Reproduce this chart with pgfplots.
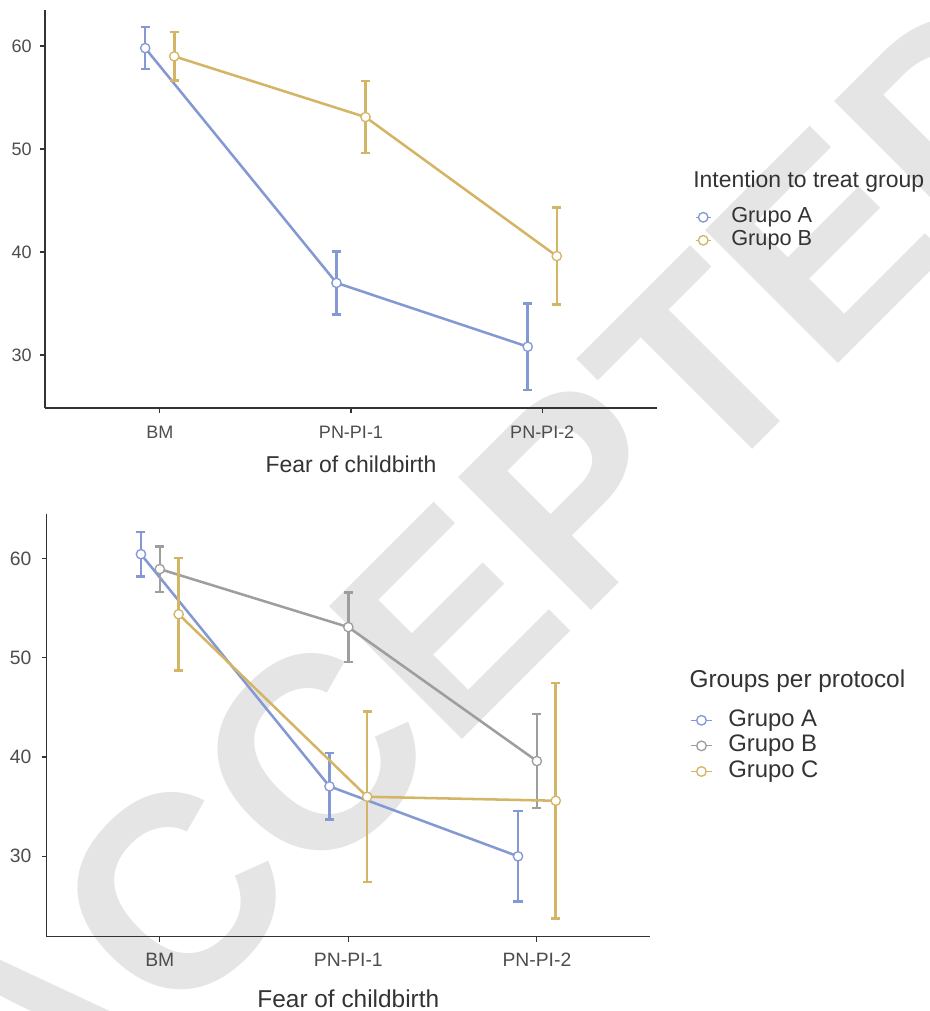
\documentclass[border=0pt]{standalone}
\usepackage{fontspec}
\setmainfont{Liberation Sans}
\usepackage{pgfplots}
\usepackage{pgfplotstable}
\pgfplotsset{compat=1.18}
\definecolor{cA}{RGB}{132,152,212}
\definecolor{cB}{RGB}{212,181,102}
\definecolor{cG}{RGB}{158,158,158}
\definecolor{axc}{RGB}{51,51,51}
\definecolor{tkc}{RGB}{77,77,77}
\definecolor{wm}{RGB}{229,229,229}

% top panel: intention to treat
\pgfplotstableread{
x y e
0.924 59.8 2.05
1.924 37.0 3.05
2.924 30.8 4.2
}\topA
\pgfplotstableread{
x y e
1.076 59.0 2.35
2.076 53.1 3.5
3.076 39.6 4.7
}\topB
% bottom panel: per protocol
\pgfplotstableread{
x y e
0.9 60.45 2.25
1.9 37.05 3.35
2.9 30.0 4.55
}\botA
\pgfplotstableread{
x y e
1.0 58.95 2.3
2.0 53.1 3.5
3.0 39.6 4.75
}\botB
\pgfplotstableread{
x y e
1.1 54.4 5.65
2.1 36.0 8.6
3.1 35.6 11.85
}\botC

\pgfplotsset{
  base/.style={
    scale only axis, clip=false,
    axis lines*=left,
    axis line style={axc, line width=0.9pt, -},
    tick style={axc, line width=0.9pt},
    tick align=outside, major tick length=3.75pt,
    xmin=0.4, xmax=3.6,
    xtick={1,2,3}, xticklabels={BM,PN-PI-1,PN-PI-2},
    ytick={30,40,50,60},
    /pgf/number format/assume math mode=true,
    ticklabel style={text=tkc, inner sep=0pt},
    xlabel={Fear of childbirth},
    legend cell align=left,
  },
  legimg/.style={
    legend image code/.code={
      \draw[mark repeat=2,mark phase=2,##1, line width=0.8pt, mark size=3.6pt]
        plot coordinates {(0pt,0pt) (#1/2,0pt) (#1,0pt)};
    },
  },
  ser/.style={
    color=#1, line width=1.9pt,
    mark=*, mark size=3.5pt,
    mark options={fill=white, draw=#1, line width=1pt, solid},
    error bars/.cd, y dir=both, y explicit,
    error bar style={line width=1.9pt, color=#1},
    error mark=-,
    error mark options={rotate=90, color=#1, line width=1.9pt, mark size=3.4pt},
  },
}

\begin{document}
\begin{tikzpicture}
\path[use as bounding box] (0pt,0pt) rectangle (697.5pt,-758.25pt);
% watermark
\node[rotate=45, text=wm, inner sep=0pt,
      font=\fontsize{205pt}{205pt}\selectfont\bfseries]
  at (372pt,-430pt) {ACCEPTED};

% ---------------- top panel ----------------
\begin{axis}[base, legimg=11.25pt,
  at={(33.75pt,-7.5pt)}, anchor=north west,
  width=459pt, height=298.5pt,
  ymin=24.85, ymax=63.5,
  ticklabel style={font=\fontsize{13.5pt}{16pt}\selectfont},
  xticklabel style={yshift=-9.5pt},
  yticklabel style={xshift=-6pt},
  xlabel style={at={(axis description cs:0.5,0)}, anchor=north, inner sep=0pt,
    yshift=-36pt, text=axc, font=\fontsize{17.2pt}{20pt}\selectfont},
  legend style={at={(rel axis cs:1.062,0.5058)}, anchor=north west,
    draw=none, fill=none, inner sep=0pt, row sep=1.75pt,
    font=\fontsize{16.3pt}{19pt}\selectfont, text=axc,
    nodes={inner sep=0pt, text height=12pt, text depth=3.5pt},
    /tikz/every odd column/.style={column sep=15pt}},
]
\addplot[ser=cA] table[x=x, y=y, y error=e] {\topA};
\addlegendentry{Grupo A}
\addplot[ser=cB] table[x=x, y=y, y error=e] {\topB};
\addlegendentry{Grupo B}
\end{axis}
\node[anchor=base west, inner sep=0pt, text=axc, font=\fontsize{17.2pt}{20pt}\selectfont]
  at (519.75pt,-140.5pt) {Intention to treat group};

% ---------------- bottom panel ----------------
\begin{axis}[base, legimg=16pt,
  at={(35pt,-385.5pt)}, anchor=north west,
  width=452.5pt, height=317pt,
  ymin=21.9, ymax=64.5,
  ticklabel style={font=\fontsize{14.5pt}{17pt}\selectfont},
  xticklabel style={yshift=-8.25pt},
  yticklabel style={xshift=-7.5pt},
  xlabel style={at={(axis description cs:0.5,0)}, anchor=north, inner sep=0pt,
    yshift=-39.5pt, text=axc, font=\fontsize{18.3pt}{21pt}\selectfont},
  legend style={at={(rel axis cs:1.0663,0.5394)}, anchor=north west,
    draw=none, fill=none, inner sep=0pt, row sep=2.2pt,
    font=\fontsize{17.9pt}{21pt}\selectfont, text=axc,
    nodes={inner sep=0pt, text height=13pt, text depth=4pt},
    /tikz/every odd column/.style={column sep=11.7pt}},
]
\addplot[ser=cA] table[x=x, y=y, y error=e] {\botA};
\addlegendentry{Grupo A}
\addplot[ser=cG] table[x=x, y=y, y error=e] {\botB};
\addlegendentry{Grupo B}
\addplot[ser=cB] table[x=x, y=y, y error=e] {\botC};
\addlegendentry{Grupo C}
\end{axis}
\node[anchor=base west, inner sep=0pt, text=axc, font=\fontsize{18.3pt}{21pt}\selectfont]
  at (517pt,-515.5pt) {Groups per protocol};
\end{tikzpicture}
\end{document}
